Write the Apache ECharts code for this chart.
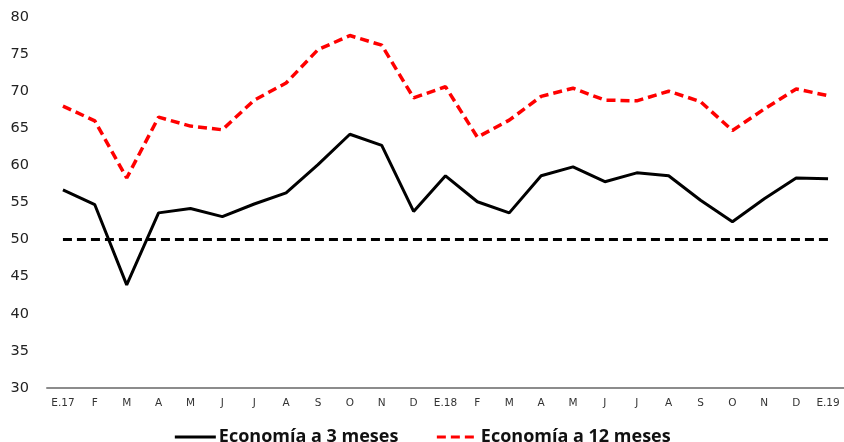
<!DOCTYPE html>
<html>
<head>
<meta charset="utf-8">
<script src="https://cdn.jsdelivr.net/npm/echarts@6/dist/echarts.min.js"></script>
<style>
  html, body { margin: 0; padding: 0; background: #fff; }
  #chart { width: 844px; height: 442px; }
</style>
</head>
<body>
<div id="chart"></div>
<script>
// Monthly categories, January 2017 to January 2019
const months = ['E.17','F','M','A','M','J','J','A','S','O','N','D',
                'E.18','F','M','A','M','J','J','A','S','O','N','D','E.19'];

// Expectations index, 3-month horizon
const economia3 = [56.7, 54.7, 43.9, 53.6, 54.2, 53.1, 54.8, 56.3, 60.1, 64.2, 62.7, 53.8,
                   58.6, 55.1, 53.6, 58.6, 59.8, 57.8, 59.0, 58.6, 55.3, 52.4, 55.5, 58.3, 58.2];

// Expectations index, 12-month horizon
const economia12 = [68.0, 66.0, 58.3, 66.5, 65.3, 64.8, 68.8, 71.1, 75.6, 77.5, 76.2, 69.1,
                    70.6, 63.8, 66.1, 69.3, 70.4, 68.8, 68.7, 70.0, 68.6, 64.7, 67.6, 70.3, 69.4];

// Neutral threshold of the index
const umbral = 50;

const seriesNames = ['Economía a 3 meses', 'Economía a 12 meses'];

const chart = echarts.init(document.getElementById('chart'));
chart.setOption({
  animation: false,
  backgroundColor: '#ffffff',
  textStyle: { fontFamily: '"DejaVu Sans", sans-serif' },
  grid: { left: 47, right: 0, top: 17, bottom: 54, containLabel: false },
  legend: {
    top: 423,
    left: 'center',
    itemWidth: 41,
    itemHeight: 14,
    itemGap: 37,
    itemStyle: { opacity: 0 },
    lineStyle: { width: 3 },
    textStyle: { fontSize: 18, fontWeight: 'bold', color: '#111', fontFamily: '"Open Sans", sans-serif', padding: [0, 0, 0, -2] },
    data: seriesNames
  },
  xAxis: {
    type: 'category',
    data: months,
    boundaryGap: true,
    axisLine: { lineStyle: { color: '#8c8c8c', width: 2 } },
    axisTick: { show: false },
    axisLabel: { fontSize: 10.5, color: '#333', margin: 10, interval: 0, fontFamily: '"DejaVu Sans", sans-serif' }
  },
  yAxis: {
    type: 'value',
    min: 30,
    max: 80,
    interval: 5,
    axisLine: { show: false },
    axisTick: { show: false },
    splitLine: { show: false },
    axisLabel: { fontSize: 14.5, color: '#222', margin: 18, fontFamily: '"DejaVu Sans", sans-serif' }
  },
  series: [
    {
      name: seriesNames[0],
      type: 'line',
      data: economia3,
      symbol: 'none',
      lineStyle: { color: '#000000', width: 3 },
      itemStyle: { color: '#000000' },
      markLine: {
        silent: true,
        symbol: 'none',
        label: { show: false },
        lineStyle: { color: '#000000', width: 3, type: [9, 5] },
        data: [[{ coord: [0, umbral] }, { coord: [months.length - 1, umbral] }]]
      }
    },
    {
      name: seriesNames[1],
      type: 'line',
      data: economia12,
      symbol: 'none',
      lineStyle: { color: '#ff0000', width: 3.5, type: [9, 5] },
      itemStyle: { color: '#ff0000' }
    }
  ]
});
</script>
</body>
</html>
